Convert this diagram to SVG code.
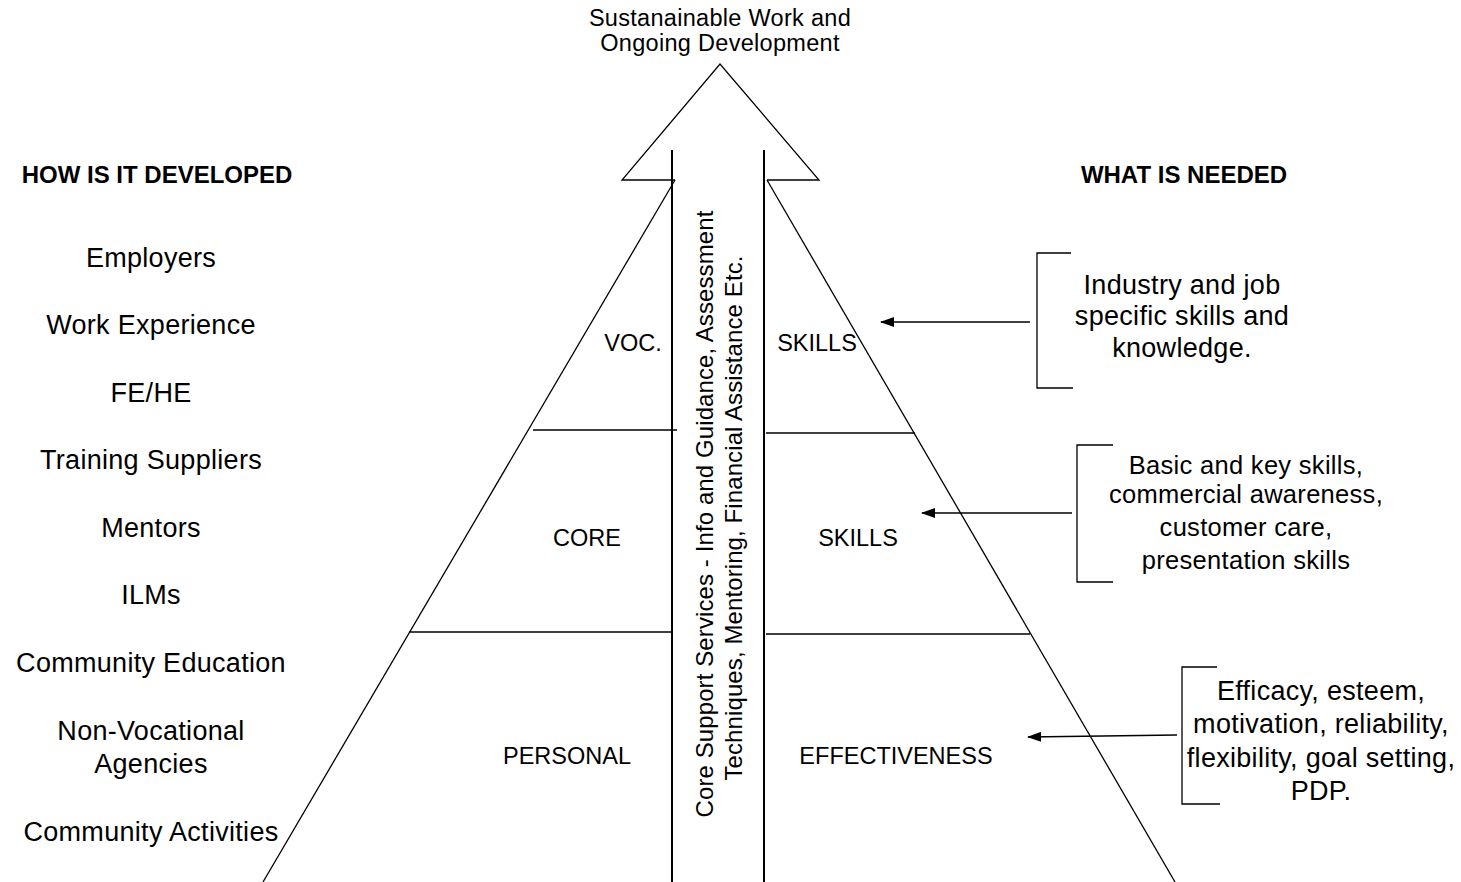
<svg xmlns="http://www.w3.org/2000/svg" width="1461" height="882" viewBox="0 0 1461 882">
<style>
text{font-family:"Liberation Sans",Arial,sans-serif;fill:#000;text-anchor:middle}
.lbl{font-size:27px;letter-spacing:0.3px}
.hd{font-size:24px;font-weight:bold}
.top{font-size:23.5px;letter-spacing:0.3px}
.in{font-size:23.5px}
.vt{font-size:24px;letter-spacing:0.1px}
.rt{font-size:27px;letter-spacing:0.3px}
.rt2{font-size:25.5px;letter-spacing:0.3px}
.ln{stroke:#000;stroke-width:1.3;fill:none}
.thick{stroke:#000;stroke-width:2;fill:none}
.con{stroke:#000;stroke-width:1.5;fill:none;marker-end:url(#ah)}
</style>
<defs>
<marker id="ah" markerUnits="userSpaceOnUse" markerWidth="14" markerHeight="10" refX="13" refY="5" orient="auto">
<path d="M0,0 L14,5 L0,10 Z" fill="#000"/>
</marker>
</defs>
<rect width="1461" height="882" fill="#fff"/>

<g id="top-label">
<text class="top" x="720" y="26">Sustanainable Work and</text>
<text class="top" x="720" y="51">Ongoing Development</text>
</g>

<g id="pyramid">
<polyline class="ln" points="675,180 622,180 720,64 819,180 767,180"/>
<line class="ln" x1="675" y1="180" x2="263" y2="882"/>
<line class="ln" x1="767" y1="180" x2="1175" y2="882"/>
<line class="ln" x1="533" y1="430" x2="677" y2="430"/>
<line class="ln" x1="766" y1="433" x2="915" y2="433"/>
<line class="ln" x1="409" y1="632" x2="672" y2="632"/>
<line class="ln" x1="766" y1="634" x2="1030" y2="634"/>
<line class="thick" x1="672" y1="150" x2="672" y2="882"/>
<line class="thick" x1="764" y1="150" x2="764" y2="882"/>
</g>

<g id="core-support">
<text class="vt" transform="translate(713,514) rotate(-90)">Core Support Services - Info and Guidance, Assessment</text>
<text class="vt" transform="translate(742,518) rotate(-90)">Techniques, Mentoring, Financial Assistance Etc.</text>
</g>

<g id="voc-skills">
<text class="in" x="633" y="351">VOC.</text>
<text class="in" x="817" y="351">SKILLS</text>
</g>
<g id="core-skills">
<text class="in" x="587" y="546">CORE</text>
<text class="in" x="858" y="546">SKILLS</text>
</g>
<g id="personal-effectiveness">
<text class="in" x="567" y="764">PERSONAL</text>
<text class="in" x="896" y="764">EFFECTIVENESS</text>
</g>

<g id="how-developed">
<text class="hd" x="157" y="183">HOW IS IT DEVELOPED</text>
<text class="lbl" x="151" y="267">Employers</text>
<text class="lbl" x="151" y="334">Work Experience</text>
<text class="lbl" x="151" y="402">FE/HE</text>
<text class="lbl" x="151" y="469">Training Suppliers</text>
<text class="lbl" x="151" y="537">Mentors</text>
<text class="lbl" x="151" y="604">ILMs</text>
<text class="lbl" x="151" y="672">Community Education</text>
<text class="lbl" x="151" y="740">Non-Vocational</text>
<text class="lbl" x="151" y="773">Agencies</text>
<text class="lbl" x="151" y="841">Community Activities</text>
</g>

<g id="what-needed">
<text class="hd" x="1184" y="183">WHAT IS NEEDED</text>
</g>

<g id="need-voc">
<path class="ln" d="M1071,253 H1037 V388 H1073"/>
<text class="rt" x="1182" y="294">Industry and job</text>
<text class="rt" x="1182" y="325">specific skills and</text>
<text class="rt" x="1182" y="357">knowledge.</text>
</g>
<g id="need-core">
<path class="ln" d="M1113,445 H1077 V582 H1113"/>
<text class="rt2" x="1246" y="474">Basic and key skills,</text>
<text class="rt2" x="1246" y="503">commercial awareness,</text>
<text class="rt2" x="1246" y="536">customer care,</text>
<text class="rt2" x="1246" y="569">presentation skills</text>
</g>
<g id="need-personal">
<path class="ln" d="M1217,667 H1182 V804 H1220"/>
<text class="rt" x="1321" y="700">Efficacy, esteem,</text>
<text class="rt" x="1321" y="733">motivation, reliability,</text>
<text class="rt" x="1321" y="767">flexibility, goal setting,</text>
<text class="rt" x="1321" y="800">PDP.</text>
</g>

<g id="connectors">
<line class="con" x1="1030" y1="322" x2="881" y2="322"/>
<line class="con" x1="1072" y1="513" x2="922" y2="513"/>
<line class="con" x1="1177" y1="735" x2="1028" y2="737"/>
</g>
</svg>
